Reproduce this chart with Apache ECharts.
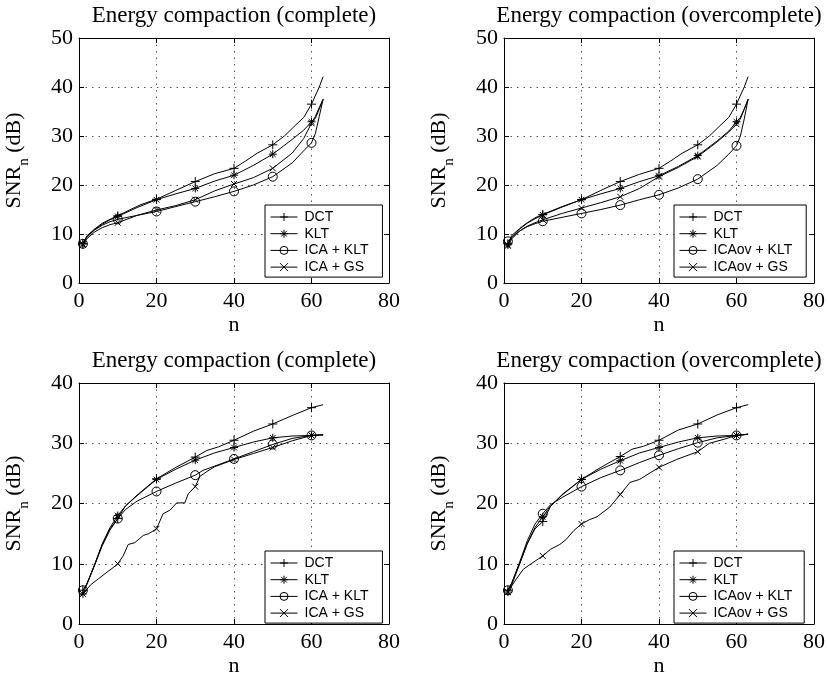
<!DOCTYPE html>
<html><head><meta charset="utf-8">
<script src="https://cdn.jsdelivr.net/npm/echarts@6/dist/echarts.min.js"></script>
<style>html,body{margin:0;padding:0;background:#fff}#c{width:828px;height:678px}</style>
</head><body><div id="c"></div>
<script>
// ---------- data ----------
const markerN = [1, 10, 20, 30, 40, 50, 60];
const namesComplete = ['DCT', 'KLT', 'ICA + KLT', 'ICA + GS'];
const namesOver = ['DCT', 'KLT', 'ICAov + KLT', 'ICAov + GS'];
const titles = ['Energy compaction (complete)', 'Energy compaction (overcomplete)',
                'Energy compaction (complete)', 'Energy compaction (overcomplete)'];
const xMax = 80, xStep = 20;
const yMaxTop = 50, yMaxBottom = 40, yStep = 10;

// top-left (complete)
const tlDCT = [[1,8.0],[2,9.6],[4,11.0],[6,12.2],[8,13.0],[10,13.7],[13,14.9],[16,16.0],[20,17.1],[25,18.9],[30,20.7],[35,22.3],[40,23.4],[43,24.9],[46,26.5],[50,28.2],[53,30.0],[56,32.3],[58,33.8],[60,36.5],[62,40.0],[63,42.1]];
const tlKLT = [[1,8.0],[2,9.4],[4,10.9],[6,12.0],[8,12.9],[10,13.6],[15,15.4],[20,17.0],[25,18.2],[30,19.3],[35,20.8],[40,22.0],[45,24.0],[50,26.3],[55,29.3],[58,31.2],[60,32.9],[61,33.6],[62,35.5],[63,37.5]];
const tlICAKLT = [[1,8.0],[2,9.3],[4,10.8],[6,11.8],[8,12.5],[10,13.0],[15,13.8],[20,14.6],[25,15.6],[30,16.6],[35,17.6],[40,18.7],[45,20.0],[50,21.7],[55,24.5],[58,27.0],[60,28.6],[61,30.5],[62,34.0],[63,37.5]];
const tlICAGS = [[1,7.8],[2,9.0],[4,10.4],[6,11.3],[8,11.9],[10,12.3],[15,13.8],[20,14.9],[25,15.8],[30,17.0],[35,18.8],[40,20.2],[45,21.5],[50,23.4],[55,26.5],[58,29.5],[60,32.6],[61,34.0],[62,35.8],[63,37.5]];

// top-right (overcomplete)
const trDCT = [[1,8.0],[2,9.7],[4,11.1],[6,12.3],[8,13.3],[10,14.0],[15,15.6],[20,17.0],[25,18.9],[30,20.7],[35,22.2],[40,23.4],[43,24.9],[46,26.5],[50,28.2],[53,30.0],[56,32.3],[58,33.8],[60,36.5],[62,40.0],[63,42.1]];
const trKLT = [[1,7.8],[2,9.4],[4,11.0],[6,12.2],[8,13.1],[10,13.9],[15,15.5],[20,17.0],[25,18.2],[30,19.3],[35,20.7],[40,21.9],[45,23.8],[50,26.0],[55,29.0],[58,31.0],[60,32.9],[61,33.8],[62,35.5],[63,37.5]];
const trICAovKLT = [[1,8.5],[2,9.3],[4,10.6],[6,11.5],[8,12.1],[10,12.6],[15,13.4],[20,14.2],[25,15.0],[30,15.9],[35,17.0],[40,18.0],[45,19.4],[50,21.2],[55,24.0],[58,26.3],[60,28.0],[61,30.0],[62,33.5],[63,37.5]];
const trICAovGS = [[1,7.6],[2,9.0],[4,10.6],[6,11.6],[8,12.3],[10,12.9],[15,14.2],[20,15.3],[25,16.4],[30,17.6],[35,19.3],[40,21.7],[45,23.6],[50,25.8],[55,28.8],[58,30.8],[60,32.4],[61,33.5],[62,35.5],[63,37.5]];

// bottom-left (complete)
const blDCT = [[1,5.6],[2,6.6],[4,9.8],[6,13.2],[8,15.8],[10,17.5],[12,19.6],[15,21.4],[20,24.1],[25,26.0],[30,27.7],[33,28.8],[36,29.4],[40,30.5],[45,32.0],[50,33.2],[55,34.6],[60,35.9],[63,36.4]];
const blKLT = [[1,5.0],[2,6.5],[4,9.8],[6,13.3],[8,16.0],[10,18.0],[12,19.6],[15,21.3],[20,24.0],[25,25.7],[30,27.2],[35,28.4],[40,29.3],[45,30.2],[50,30.9],[55,31.2],[60,31.3],[63,31.4]];
const blICAKLT = [[1,5.6],[2,6.6],[4,9.7],[6,13.0],[8,15.6],[10,17.5],[12,19.0],[15,20.4],[20,22.0],[25,23.4],[30,24.7],[32,25.5],[35,26.2],[40,27.4],[45,28.6],[50,29.8],[55,30.8],[60,31.3],[63,31.4]];
const blICAGS = [[1,5.0],[3,6.5],[5,7.5],[7,8.5],[8.5,9.2],[10,10.0],[11.4,11.3],[12.7,13.2],[14.4,13.5],[16.6,14.7],[18,15.0],[20,15.8],[21.7,18.3],[23.5,18.9],[25.2,20.1],[27.3,20.1],[28.2,21.6],[30,22.8],[31.2,24.5],[33,25.3],[35,26.1],[40,27.3],[45,28.3],[50,29.3],[55,30.4],[60,31.3],[63,31.4]];

// bottom-right (overcomplete)
const brDCT = [[1,5.6],[2,6.8],[4,10.0],[6,13.3],[8,15.8],[10,17.0],[12,19.5],[15,21.5],[20,24.0],[25,26.0],[30,27.8],[33,29.0],[36,29.5],[40,30.5],[45,32.2],[50,33.2],[55,34.7],[60,35.9],[63,36.4]];
const brKLT = [[1,5.3],[2,6.5],[4,9.9],[6,13.4],[8,16.0],[10,17.8],[12,19.6],[15,21.4],[20,24.0],[25,25.7],[30,27.1],[35,28.4],[40,29.3],[45,30.2],[50,30.9],[55,31.2],[60,31.3],[63,31.5]];
const brICAovKLT = [[1,5.6],[2,6.8],[4,10.2],[6,13.8],[8,16.6],[10,18.3],[12,19.8],[15,21.0],[20,22.8],[25,24.3],[30,25.5],[35,26.8],[40,28.0],[45,29.1],[50,30.1],[55,30.9],[60,31.3],[63,31.5]];
const brICAovGS = [[1,5.3],[3,7.3],[5,9.1],[7,10.0],[10,11.3],[12,12.4],[14.4,13.2],[16,14.0],[18,15.5],[20,16.6],[22,17.3],[24,17.8],[27.3,19.4],[30,21.5],[32.5,23.5],[35,24.0],[40,26.0],[44.5,27.3],[50,28.6],[53,30.0],[57,30.7],[60,31.3],[63,31.5]];

const panelData = [
  [tlDCT, tlKLT, tlICAKLT, tlICAGS],
  [trDCT, trKLT, trICAovKLT, trICAovGS],
  [blDCT, blKLT, blICAKLT, blICAGS],
  [brDCT, brKLT, brICAovKLT, brICAovGS]
];
const panelNames = [namesComplete, namesOver, namesComplete, namesOver];
const panelYMax = [yMaxTop, yMaxTop, yMaxBottom, yMaxBottom];

// ---------- styling / layout ----------
const SERIF = 'Liberation Serif, Times New Roman, serif';
const SANS = 'Liberation Sans, Arial, Helvetica, sans-serif';
const grids = [
  {left: 79, top: 38, width: 310, height: 245},
  {left: 504, top: 38, width: 310, height: 245},
  {left: 79, top: 383, width: 310, height: 246},
  {left: 504, top: 383, width: 310, height: 246}
];
const legendPos = [
  {left: 265, top: 205, padR: 14},
  {left: 674, top: 205, padR: 14},
  {left: 265, top: 551, padR: 14},
  {left: 674, top: 551, padR: 12}
];
const titleTop = [4, 349];
const symbols = [
  {symbol: 'path://M5 0L5 10M0 5L10 5', size: 9},
  {symbol: 'path://M5 0L5 10M0 5L10 5M1.46 1.46L8.54 8.54M8.54 1.46L1.46 8.54', size: 8},
  {symbol: 'circle', size: 9},
  {symbol: 'path://M0 0L10 10M10 0L0 10', size: 6}
];

const xAxes = [], yAxes = [], series = [], legends = [], graphics = [];
const axisLineStyle = {color: '#000', width: 1};
const splitStyle = {color: '#555', width: 1, type: [1.5, 5]};

grids.forEach((g, i) => {
  xAxes.push({
    type: 'value', gridIndex: i, min: 0, max: xMax, interval: xStep, position: 'bottom',
    axisLine: {onZero: false, lineStyle: axisLineStyle},
    axisTick: {inside: true, length: 5, lineStyle: axisLineStyle},
    axisLabel: {color: '#000', fontFamily: SERIF, fontSize: 22, margin: 7},
    splitLine: {show: true, lineStyle: splitStyle},
    name: 'n', nameLocation: 'middle', nameGap: 31,
    nameTextStyle: {color: '#000', fontFamily: SERIF, fontSize: 22}
  });
  xAxes.push({
    type: 'value', gridIndex: i, min: 0, max: xMax, interval: xStep, position: 'top',
    axisLine: {onZero: false, lineStyle: axisLineStyle},
    axisTick: {inside: true, length: 5, lineStyle: axisLineStyle},
    axisLabel: {show: false}, splitLine: {show: false}
  });
  yAxes.push({
    type: 'value', gridIndex: i, min: 0, max: panelYMax[i], interval: yStep, position: 'left',
    axisLine: {onZero: false, lineStyle: axisLineStyle},
    axisTick: {inside: true, length: 5, lineStyle: axisLineStyle},
    axisLabel: {color: '#000', fontFamily: SERIF, fontSize: 22, margin: 6},
    splitLine: {show: true, lineStyle: splitStyle},
    name: '{a|SNR}{b|n}{a| (dB)}', nameLocation: 'middle', nameRotate: 90, nameGap: 50,
    nameTextStyle: {
      color: '#000',
      rich: {
        a: {fontFamily: SERIF, fontSize: 22, color: '#000', lineHeight: 26, verticalAlign: 'top'},
        b: {fontFamily: SERIF, fontSize: 15, color: '#000', lineHeight: 16, padding: [14, 0, 0, 0], verticalAlign: 'top'}
      }
    }
  });
  yAxes.push({
    type: 'value', gridIndex: i, min: 0, max: panelYMax[i], interval: yStep, position: 'right',
    axisLine: {onZero: false, lineStyle: axisLineStyle},
    axisTick: {inside: true, length: 5, lineStyle: axisLineStyle},
    axisLabel: {show: false}, splitLine: {show: false}
  });

  panelData[i].forEach((arr, k) => {
    series.push({
      type: 'line', name: panelNames[i][k],
      xAxisIndex: 2 * i, yAxisIndex: 2 * i,
      symbol: symbols[k].symbol, symbolSize: symbols[k].size,
      showSymbol: true, showAllSymbol: true,
      lineStyle: {color: '#000', width: 1},
      itemStyle: {color: 'rgba(0,0,0,0)', borderColor: '#000', borderWidth: 1},
      emphasis: {disabled: true},
      silent: true, z: 3,
      data: arr.map(p => markerN.includes(p[0]) ? {value: p} : {value: p, symbol: 'none'})
    });
  });

  legends.push({
    orient: 'vertical', left: legendPos[i].left, top: legendPos[i].top,
    data: panelNames[i],
    backgroundColor: '#fff', borderColor: '#000', borderWidth: 1, borderRadius: 0,
    padding: [5, legendPos[i].padR, 3, 5],
    itemWidth: 27, itemHeight: 10, itemGap: 2.7,
    selectedMode: false,
    itemStyle: {color: 'rgba(0,0,0,0)', borderColor: '#000', borderWidth: 1},
    lineStyle: {color: '#000', width: 1},
    textStyle: {color: '#000', fontFamily: SANS, fontSize: 14, lineHeight: 14, padding: [0, 0, 0, 2]},
    z: 10
  });

  graphics.push({
    type: 'text', x: g.left + g.width / 2, y: titleTop[i < 2 ? 0 : 1],
    style: {text: titles[i], fill: '#000', font: '23px ' + SERIF, align: 'center', verticalAlign: 'top'}
  });
});

const chart = echarts.init(document.getElementById('c'), null, {renderer: 'canvas'});
chart.setOption({
  animation: false,
  backgroundColor: '#fff',
  grid: grids.map(g => Object.assign({containLabel: false}, g)),
  xAxis: xAxes, yAxis: yAxes, series: series, legend: legends, graphic: graphics
});
</script></body></html>
